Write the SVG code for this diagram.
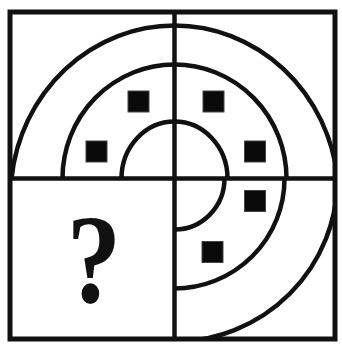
<svg xmlns="http://www.w3.org/2000/svg" width="342" height="345" viewBox="0 0 342 345">
  <style>
    .ln { fill: none; stroke: #111; stroke-width: 4.5; }
    .bd { fill: none; stroke: #111; stroke-width: 5; }
    .sq { fill: #0a0a0a; stroke: #444; stroke-width: 1; }
    .q { font-family: "Liberation Serif", "Times New Roman", serif; font-weight: bold; font-size: 128px; fill: #111; text-anchor: middle; }
  </style>
  <defs>
    <clipPath id="inside">
      <rect x="10" y="12" width="325" height="327"/>
    </clipPath>
  </defs>
  <rect x="0" y="0" width="342" height="345" fill="#ffffff"/>
  <g id="arcs" clip-path="url(#inside)">
    <path class="ln" d="M121.5,178.5 A53,57 0 0 1 227.5,178.5"/>
    <path class="ln" d="M62.5,178.5 A112,114 0 0 1 286.5,178.5"/>
    <path class="ln" d="M11.5,178.5 A164,172 0 0 1 337.5,178.5"/>
    <path class="ln" d="M224.5,178.5 A50,51 0 0 1 174.5,229.5"/>
    <path class="ln" d="M284.5,178.5 A110,110 0 0 1 174.5,288.5"/>
    <path class="ln" d="M337.5,178.5 A163,163 0 0 1 174.5,341.5"/>
  </g>
  <g id="cross">
    <line class="ln" x1="174.5" y1="12" x2="174.5" y2="339"/>
    <line class="ln" x1="10" y1="178.5" x2="335" y2="178.5"/>
  </g>
  <g id="frame">
    <rect class="bd" x="10" y="12" width="325" height="327"/>
  </g>
  <g id="squares">
    <rect class="sq" x="128" y="91" width="21" height="21"/>
    <rect class="sq" x="203" y="91" width="21" height="21"/>
    <rect class="sq" x="86" y="141" width="21" height="21"/>
    <rect class="sq" x="244.5" y="141" width="21" height="21"/>
    <rect class="sq" x="244.5" y="190.5" width="21" height="21"/>
    <rect class="sq" x="202" y="241.5" width="21" height="21"/>
  </g>
  <g id="question">
    <text class="q" transform="translate(94,302) scale(0.85,1)" x="0" y="0">?</text>
  </g>
</svg>
